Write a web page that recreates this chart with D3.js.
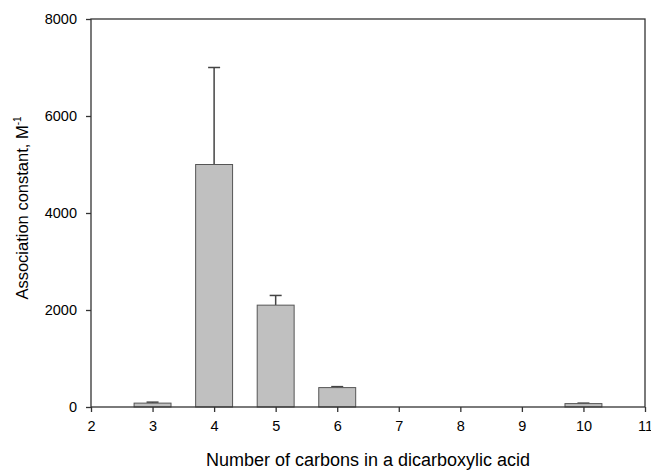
<!DOCTYPE html>
<html>
<head>
<meta charset="utf-8">
<script src="https://cdn.jsdelivr.net/npm/d3@7"></script>
<style>
  body { margin: 0; background: #fff; }
  text { font-family: "Liberation Sans", Arial, sans-serif; }
</style>
</head>
<body>
<div id="chart"></div>
<script>
// Data
const carbons = [3, 4, 5, 6, 10];
const constants = [80, 5000, 2100, 400, 70];
const errors = [20, 2000, 200, 20, 10];
const xTicks = [2, 3, 4, 5, 6, 7, 8, 9, 10, 11];
const yTicks = [0, 2000, 4000, 6000, 8000];

const width = 651, height = 471;
const margin = { top: 19, right: 6, bottom: 64, left: 91 };

const svg = d3.select("#chart")
    .append("svg")
    .attr("width", width)
    .attr("height", height);

const x = d3.scaleLinear()
    .domain([2, 11])
    .range([margin.left, width - margin.right]);

const y = d3.scaleLinear()
    .domain([0, 8000])
    .range([height - margin.bottom, margin.top]);

const axisColor = "#333";
const barW = (x(3) - x(2)) * 0.6;

const data = carbons.map((c, i) => ({ c, v: constants[i], e: errors[i] }));

// Error bars (drawn before bars so the bar covers the stem)
const err = svg.append("g").attr("stroke", "#444").attr("stroke-width", 1.5);
err.selectAll(".stem")
    .data(data)
    .join("line")
    .attr("x1", d => x(d.c))
    .attr("x2", d => x(d.c))
    .attr("y1", d => y(d.v))
    .attr("y2", d => y(d.v + d.e));
err.selectAll(".cap")
    .data(data)
    .join("line")
    .attr("x1", d => x(d.c) - 6)
    .attr("x2", d => x(d.c) + 6)
    .attr("y1", d => y(d.v + d.e))
    .attr("y2", d => y(d.v + d.e));

// Bars
svg.selectAll(".bar")
    .data(data)
    .join("rect")
    .attr("class", "bar")
    .attr("x", d => x(d.c) - barW / 2)
    .attr("y", d => y(d.v))
    .attr("width", barW)
    .attr("height", d => y(0) - y(d.v))
    .attr("fill", "#c0c0c0")
    .attr("stroke", "#555")
    .attr("stroke-width", 1);

// Frame
svg.append("rect")
    .attr("x", margin.left)
    .attr("y", margin.top)
    .attr("width", width - margin.right - margin.left)
    .attr("height", height - margin.bottom - margin.top)
    .attr("fill", "none")
    .attr("stroke", axisColor)
    .attr("stroke-width", 1.3);

// X axis
const gx = svg.append("g")
    .attr("transform", `translate(0,${height - margin.bottom})`)
    .call(d3.axisBottom(x).tickValues(xTicks).tickSize(5).tickPadding(9).tickFormat(d3.format("d")));
gx.select(".domain").remove();
gx.selectAll("line").attr("stroke", axisColor).attr("stroke-width", 1.3);
gx.selectAll("text").attr("font-size", 14.5).attr("fill", "#000");

// Y axis
const gy = svg.append("g")
    .attr("transform", `translate(${margin.left},0)`)
    .call(d3.axisLeft(y).tickValues(yTicks).tickSize(5).tickPadding(9).tickFormat(d3.format("d")));
gy.select(".domain").remove();
gy.selectAll("line").attr("stroke", axisColor).attr("stroke-width", 1.3);
gy.selectAll("text").attr("font-size", 14.5).attr("fill", "#000");

// Axis titles
svg.append("text")
    .attr("x", (margin.left + width - margin.right) / 2 - 0)
    .attr("y", 466)
    .attr("text-anchor", "middle")
    .attr("font-size", 18)
    .text("Number of carbons in a dicarboxylic acid");

const yl = svg.append("text")
    .attr("transform", `translate(28,208) rotate(-90)`)
    .attr("text-anchor", "middle")
    .attr("font-size", 16.5);
yl.append("tspan").text("Association constant, M");
yl.append("tspan").attr("font-size", 10).attr("dy", -7).text("-1");
</script>
</body>
</html>
